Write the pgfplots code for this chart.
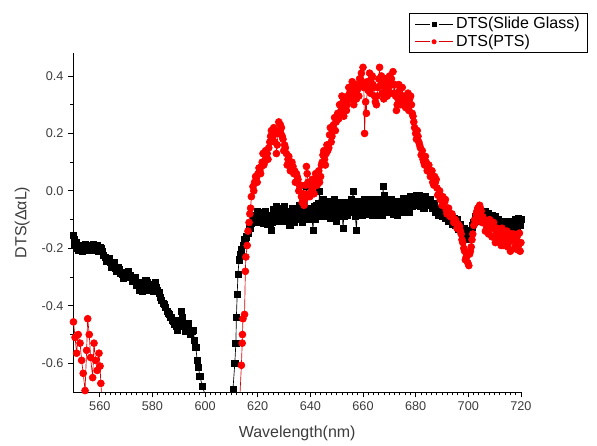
\documentclass[border=0pt]{standalone}
\usepackage{fontspec}
\setmainfont{Liberation Sans}
\usepackage{pgfplots}
\usepackage{pgfplotstable}
\pgfplotsset{compat=1.18}
\definecolor{labgray}{RGB}{60,60,60}
\definecolor{ptsred}{RGB}{255,0,0}

% DTS of the slide glass
\pgfplotstableread{
x y
550 -0.155
550.2 -0.17
550.5 -0.19
551 -0.18
551.5 -0.20
552 -0.205
552.5 -0.19
553 -0.19
553.5 -0.21
554 -0.20
554.5 -0.185
555 -0.195
555.5 -0.205
556 -0.19
556.5 -0.20
557 -0.20
557.5 -0.185
558 -0.205
558.5 -0.195
559 -0.19
559.5 -0.21
560 -0.195
560.5 -0.20
561 -0.21
561.5 -0.225
562 -0.23
562.5 -0.245
563 -0.245
563.5 -0.235
564 -0.25
564.5 -0.265
565 -0.26
565.5 -0.25
566 -0.27
566.5 -0.28
567 -0.265
567.5 -0.275
568 -0.285
568.5 -0.29
569 -0.305
569.5 -0.285
570 -0.29
570.5 -0.30
571 -0.28
571.5 -0.295
572 -0.30
572.5 -0.315
573 -0.31
573.5 -0.30
574 -0.33
574.5 -0.32
575 -0.345
575.5 -0.33
576 -0.35
576.5 -0.335
577 -0.33
577.5 -0.31
578 -0.32
578.5 -0.345
579 -0.335
579.5 -0.325
580 -0.34
580.5 -0.35
581 -0.32
581.5 -0.335
582 -0.345
582.5 -0.355
583 -0.37
583.5 -0.38
584 -0.39
584.5 -0.395
585 -0.405
585.5 -0.42
586 -0.425
586.5 -0.43
587 -0.44
587.5 -0.45
588 -0.455
588.5 -0.465
589 -0.47
589.5 -0.485
590 -0.45
590.5 -0.47
591 -0.42
591.5 -0.44
592 -0.46
592.5 -0.49
593 -0.475
593.5 -0.46
594 -0.485
594.5 -0.50
595 -0.49
595.5 -0.485
596 -0.52
596.5 -0.545
597 -0.59
597.5 -0.615
598 -0.645
599 -0.68
600 -0.71
601 -0.75
605 -0.90
610 -0.76
610.6 -0.69
611.3 -0.60
611.7 -0.53
611.9 -0.44
612.2 -0.36
612.5 -0.29
612.9 -0.24
613.4 -0.22
613.8 -0.205
614.5 -0.19
615.1 -0.17
615.7 -0.16
616.3 -0.147
617 -0.13
617.6 -0.112
618.2 -0.10
618.5 -0.11
618.9 -0.084
619.2 -0.085
619.5 -0.10
619.8 -0.07
620.2 -0.09
620.5 -0.11
620.8 -0.09
621.1 -0.075
621.4 -0.11
621.7 -0.095
622 -0.112
622.4 -0.105
622.7 -0.08
623 -0.07
623.3 -0.095
623.6 -0.115
623.9 -0.10
624.2 -0.085
624.6 -0.115
624.9 -0.095
625.2 -0.136
625.5 -0.11
625.8 -0.09
626.1 -0.065
626.5 -0.07
626.8 -0.10
627.1 -0.055
627.4 -0.085
627.8 -0.075
628.1 -0.105
628.4 -0.084
628.7 -0.06
629 -0.065
629.3 -0.10
629.7 -0.09
630 -0.055
630.3 -0.077
630.6 -0.105
631 -0.10
631.3 -0.07
631.6 -0.085
631.9 -0.09
632.2 -0.119
632.5 -0.10
632.9 -0.07
633.2 -0.06
633.5 -0.095
633.8 -0.11
634.1 -0.084
634.5 -0.075
634.8 -0.06
635.1 -0.10
635.4 -0.08
635.7 -0.05
636 -0.066
636.3 -0.085
636.6 -0.10
637 -0.11
637.3 -0.05
637.6 -0.07
637.9 -0.085
638.2 -0.095
638.5 0.015
638.9 -0.06
639.2 -0.07
639.5 -0.10
639.8 -0.09
640.1 -0.075
640.4 -0.06
640.7 -0.10
641 -0.136
641.4 -0.055
641.7 -0.08
642 -0.10
642.3 -0.05
642.6 -0.08
642.9 -0.066
643.2 -0.045
643.5 -0.002
643.9 -0.09
644.2 -0.045
644.5 -0.06
644.8 -0.031
645.1 -0.09
645.4 -0.072
645.7 -0.035
646 -0.05
646.4 -0.08
646.7 -0.04
647 -0.065
647.3 -0.037
647.6 -0.095
648 -0.08
648.3 -0.04
648.6 -0.06
648.9 -0.085
649.2 -0.03
649.5 -0.07
649.9 -0.107
650.2 -0.08
650.5 -0.06
650.8 -0.04
651.1 -0.05
651.5 -0.075
651.8 -0.09
652.1 -0.06
652.4 -0.13
652.7 -0.09
653 -0.06
653.4 -0.05
653.7 -0.04
654 -0.085
654.3 -0.07
654.6 -0.04
654.9 -0.05
655.2 -0.075
655.6 -0.03
655.9 -0.06
656.2 -0.002
656.5 -0.04
656.8 -0.07
657.1 -0.09
657.5 -0.136
657.8 -0.075
658.1 -0.05
658.4 -0.035
658.7 -0.06
659.1 -0.07
659.4 -0.04
659.7 -0.085
660 -0.06
660.3 -0.045
660.6 -0.03
661 -0.075
661.3 -0.05
661.6 -0.04
661.9 -0.07
662.2 -0.08
662.5 -0.049
662.8 -0.06
663.1 -0.03
663.5 -0.085
663.8 -0.06
664.1 -0.04
664.4 -0.045
664.8 -0.065
665.1 -0.084
665.4 -0.03
665.7 -0.05
666 -0.075
666.3 -0.035
666.7 -0.05
667 -0.06
667.3 -0.085
667.6 0.015
667.9 -0.035
668.2 -0.014
668.6 -0.07
668.9 -0.045
669.2 -0.03
669.5 -0.06
669.8 -0.075
670.1 -0.049
670.5 -0.06
670.8 -0.03
671.1 -0.035
671.4 -0.06
671.7 -0.08
672 -0.04
672.4 -0.05
672.7 -0.072
673 -0.085
673.3 -0.05
673.6 -0.06
673.9 -0.035
674.3 -0.045
674.6 -0.06
674.9 -0.075
675.2 -0.037
675.5 -0.025
675.8 -0.05
676.2 -0.065
676.5 -0.03
676.8 -0.045
677.1 -0.06
677.4 -0.075
677.7 -0.06
678.1 -0.02
678.4 -0.04
678.7 -0.055
679 -0.03
679.3 -0.045
679.6 -0.02
680 -0.025
680.3 -0.014
680.6 -0.05
680.9 -0.03
681.2 -0.015
681.5 -0.04
681.9 -0.055
682.2 -0.025
682.5 -0.03
682.8 -0.049
683.1 -0.06
683.4 -0.04
683.7 -0.02
684 -0.031
684.4 -0.05
684.7 -0.045
685 -0.045
685.3 -0.037
685.6 -0.03
685.9 -0.05
686.3 -0.06
686.6 -0.055
686.9 -0.045
687.2 -0.06
687.5 -0.075
687.8 -0.066
688.1 -0.06
688.4 -0.07
688.8 -0.085
689.1 -0.075
689.4 -0.065
689.7 -0.08
690 -0.09
690.3 -0.085
690.6 -0.07
691 -0.08
691.3 -0.095
691.6 -0.09
691.9 -0.075
692.2 -0.095
692.5 -0.105
692.9 -0.10
693.2 -0.085
693.5 -0.10
693.8 -0.115
694.1 -0.105
694.5 -0.095
694.8 -0.11
695.1 -0.12
695.4 -0.112
695.7 -0.10
696 -0.12
696.4 -0.135
696.7 -0.125
697 -0.115
697.3 -0.13
697.6 -0.145
697.9 -0.136
698.3 -0.13
698.6 -0.145
698.9 -0.16
699.2 -0.155
699.5 -0.145
699.8 -0.16
700.2 -0.17
700.5 -0.15
700.8 -0.14
701.1 -0.136
701.4 -0.125
701.7 -0.12
702.1 -0.11
702.4 -0.105
702.7 -0.09
703 -0.10
703.3 -0.105
703.6 -0.09
704 -0.07
704.3 -0.08
704.6 -0.095
704.9 -0.085
705.2 -0.07
705.5 -0.08
705.8 -0.09
706.2 -0.085
706.5 -0.07
706.8 -0.078
707.1 -0.095
707.4 -0.09
707.7 -0.08
708.1 -0.095
708.4 -0.105
708.7 -0.09
709 -0.085
709.3 -0.095
709.6 -0.11
709.9 -0.10
710.3 -0.09
710.6 -0.105
710.9 -0.115
711.2 -0.11
711.5 -0.10
711.9 -0.113
712.2 -0.12
712.5 -0.11
712.8 -0.105
713.1 -0.115
713.4 -0.125
713.8 -0.12
714.1 -0.11
714.4 -0.115
714.7 -0.125
715 -0.12
715.3 -0.105
715.7 -0.119
716 -0.125
716.3 -0.12
716.6 -0.105
716.9 -0.11
717.2 -0.125
717.6 -0.115
717.9 -0.10
718.2 -0.12
718.5 -0.125
718.8 -0.11
719.1 -0.095
719.4 -0.107
719.7 -0.12
720 -0.10
}\slideglass

% DTS of PTS
\pgfplotstableread{
x y
550 -0.456
550.6 -0.51
551.2 -0.565
551.8 -0.50
552.5 -0.53
553.1 -0.59
553.7 -0.635
554.4 -0.695
555 -0.555
555.4 -0.445
556 -0.50
556.5 -0.58
557.3 -0.65
557.8 -0.53
558.4 -0.59
559 -0.625
559.7 -0.565
560.1 -0.61
560.4 -0.67
561 -0.75
565 -0.95
610 -0.95
613.2 -0.72
613.8 -0.607
614.1 -0.53
614.2 -0.50
614.4 -0.445
615 -0.43
615.3 -0.28
615.5 -0.23
616 -0.19
616.3 -0.14
616.7 -0.11
617 -0.08
617.3 -0.06
617.6 -0.02
618.2 0.015
618.5 0.00
618.8 0.03
619.2 0.05
619.5 0.045
619.8 0.03
620.1 0.06
620.5 0.08
620.8 0.07
621.1 0.06
621.4 0.085
621.7 0.10
622 0.13
622.3 0.09
622.6 0.10
623 0.14
623.3 0.12
623.6 0.13
623.9 0.11
624.2 0.15
624.6 0.17
624.9 0.19
625.2 0.21
625.5 0.18
625.8 0.19
626.1 0.22
626.5 0.17
626.8 0.20
627.1 0.13
627.4 0.16
627.7 0.20
628 0.24
628.3 0.21
628.6 0.23
628.8 0.20
629 0.22
629.3 0.19
629.6 0.18
629.9 0.14
630.2 0.16
630.5 0.15
630.9 0.13
631.2 0.09
631.5 0.11
631.8 0.12
632.1 0.10
632.4 0.07
632.7 0.08
633 0.10
633.4 0.085
633.7 0.06
634 0.07
634.3 0.03
634.7 0.06
635 0.05
635.3 0.04
635.6 0.00
636 0.015
636.3 0.02
636.6 -0.02
636.9 -0.04
637.3 -0.01
637.6 -0.05
637.9 -0.03
638.2 0.02
638.5 0.085
638.8 0.06
639.1 0.03
639.4 -0.01
639.8 -0.02
640.1 0.02
640.4 0.00
640.7 0.04
641 0.01
641.4 -0.01
641.7 0.02
642 0.06
642.3 0.05
642.6 0.02
642.9 0.04
643.2 0.07
643.5 0.03
643.9 0.05
644.2 0.09
644.5 0.10
644.8 0.125
645.1 0.14
645.4 0.11
645.7 0.09
646 0.13
646.3 0.16
646.6 0.14
647 0.15
647.3 0.195
647.6 0.22
647.9 0.17
648.2 0.19
648.5 0.21
648.8 0.23
649.2 0.255
649.5 0.21
649.8 0.24
650.1 0.26
650.4 0.27
650.7 0.25
651.1 0.30
651.4 0.27
651.7 0.28
652 0.33
652.4 0.31
652.7 0.26
653 0.29
653.3 0.31
653.7 0.28
654 0.30
654.3 0.33
654.6 0.36
654.9 0.34
655.2 0.32
655.6 0.36
655.9 0.38
656.2 0.35
656.5 0.30
656.8 0.33
657.1 0.37
657.5 0.32
657.8 0.35
658.1 0.36
658.4 0.33
658.7 0.39
659.1 0.37
659.4 0.41
659.7 0.38
660 0.43
660.3 0.36
660.6 0.20
661 0.31
661.3 0.27
661.6 0.38
661.9 0.35
662.2 0.36
662.5 0.41
662.8 0.34
663.1 0.39
663.5 0.40
663.8 0.37
664.1 0.36
664.4 0.33
664.7 0.31
665.1 0.30
665.4 0.33
665.7 0.36
666 0.39
666.3 0.43
666.7 0.37
667 0.40
667.3 0.34
667.6 0.38
667.9 0.32
668.2 0.36
668.6 0.39
668.9 0.35
669.2 0.33
669.5 0.38
669.8 0.36
670.1 0.40
670.5 0.34
670.8 0.39
671.1 0.37
671.4 0.415
671.7 0.34
672 0.37
672.4 0.33
672.7 0.28
673 0.30
673.3 0.32
673.6 0.37
673.9 0.35
674.3 0.30
674.6 0.33
674.9 0.36
675.2 0.31
675.5 0.33
675.8 0.30
676.2 0.29
676.5 0.32
676.8 0.31
677.1 0.34
677.4 0.28
677.7 0.32
678.1 0.33
678.4 0.30
678.7 0.27
679 0.26
679.3 0.24
679.6 0.22
680 0.20
680.3 0.18
680.6 0.21
680.9 0.19
681.2 0.17
681.5 0.16
681.8 0.15
682.1 0.125
682.5 0.14
682.8 0.11
683.1 0.10
683.4 0.09
683.7 0.12
684 0.10
684.4 0.07
684.7 0.08
685 0.09
685.3 0.067
685.6 0.05
685.9 0.06
686.2 0.07
686.5 0.03
686.9 0.02
687.2 0.05
687.5 0.03
687.8 0.04
688.1 0.01
688.4 -0.015
688.8 -0.01
689.1 0.00
689.4 -0.03
689.7 -0.02
690 -0.05
690.3 -0.02
690.6 -0.05
691 -0.04
691.3 -0.03
691.6 -0.066
691.9 -0.08
692.2 -0.07
692.5 -0.06
692.9 -0.08
693.2 -0.09
693.5 -0.085
693.8 -0.08
694.1 -0.09
694.5 -0.11
694.8 -0.10
695.1 -0.10
695.4 -0.11
695.7 -0.13
696 -0.115
696.4 -0.12
696.7 -0.125
697 -0.14
697.3 -0.15
697.6 -0.17
697.9 -0.18
698.3 -0.20
698.6 -0.21
698.9 -0.24
699.2 -0.23
699.5 -0.22
699.8 -0.25
700.2 -0.26
700.5 -0.22
700.8 -0.21
701.1 -0.195
701.4 -0.17
701.7 -0.15
702.1 -0.12
702.4 -0.10
702.7 -0.11
703 -0.08
703.3 -0.07
703.6 -0.06
704 -0.09
704.3 -0.05
704.6 -0.06
704.9 -0.07
705.2 -0.11
705.5 -0.09
705.8 -0.10
706.2 -0.11
706.5 -0.14
706.8 -0.12
707.1 -0.11
707.4 -0.136
707.7 -0.15
708.1 -0.10
708.4 -0.13
708.7 -0.12
709 -0.16
709.3 -0.125
709.6 -0.11
709.9 -0.16
710.3 -0.18
710.6 -0.14
710.9 -0.13
711.2 -0.17
711.5 -0.15
711.9 -0.15
712.2 -0.17
712.5 -0.19
712.8 -0.13
713.1 -0.147
713.4 -0.19
713.8 -0.17
714.1 -0.16
714.4 -0.18
714.7 -0.14
715 -0.195
715.3 -0.18
715.7 -0.16
716 -0.21
716.3 -0.15
716.6 -0.17
716.9 -0.17
717.2 -0.15
717.6 -0.20
717.9 -0.19
718.2 -0.18
718.5 -0.16
718.8 -0.205
719.1 -0.19
719.4 -0.147
719.7 -0.21
720 -0.18
}\pts

\begin{document}
\begin{tikzpicture}
  % fixes the page to the reference's 597x446 px (1 px = 0.75pt)
  \useasboundingbox (-55.1pt,-40.5pt) rectangle (392.65pt,294pt);
  \begin{axis}[
      scale only axis,
      width=335.6pt, height=254.25pt,
      xmin=550, xmax=720,
      ymin=-0.7, ymax=0.48,
      axis lines*=left,
      axis line style={line width=0.6pt},
      xtick={560,580,...,720},
      ytick={-0.6,-0.4,...,0.41},
      minor x tick num=9,
      minor y tick num=1,
      tick align=outside,
      major tick length=4pt,
      minor tick length=2.5pt,
      tick style={line width=0.6pt, black},
      ticklabel style={font=\fontsize{9.5}{11}\selectfont, text=labgray},
      yticklabel style={/pgf/number format/fixed, /pgf/number format/fixed zerofill,
        /pgf/number format/precision=1},
      /pgf/number format/assume math mode=true,
      xlabel={Wavelength(nm)},
      ylabel={DTS(ΔαL)},
      label style={font=\fontsize{12}{14}\selectfont, text=labgray},
      xlabel style={yshift=-4pt},
      ylabel style={yshift=2pt},
      legend style={at={(axis description cs:0.75,1.118)}, anchor=north west,
        draw=black, line width=0.6pt, font=\fontsize{12}{13}\selectfont,
        inner xsep=4pt, inner ysep=1pt, row sep=-1pt, cells={anchor=west}},
      legend image code/.code={
        \draw[mark=none] (0cm,0cm) -- (0.38cm,0cm) (0.62cm,0cm) -- (1.0cm,0cm);
        \draw[mark size=1.6pt] plot coordinates {(0.5cm,0cm)};
      },
    ]
    \addplot[black, line width=0.5pt, mark=square*, mark size=2.3pt,
      mark options={solid}] table[x=x, y=y] {\slideglass};
    \addlegendentry{DTS(Slide Glass)}
    \addplot[ptsred!85!black, line width=0.5pt, mark=*, mark size=2.6pt,
      mark options={solid, fill=ptsred, draw=ptsred}] table[x=x, y=y] {\pts};
    \addlegendentry{DTS(PTS)}
  \end{axis}
\end{tikzpicture}
\end{document}
